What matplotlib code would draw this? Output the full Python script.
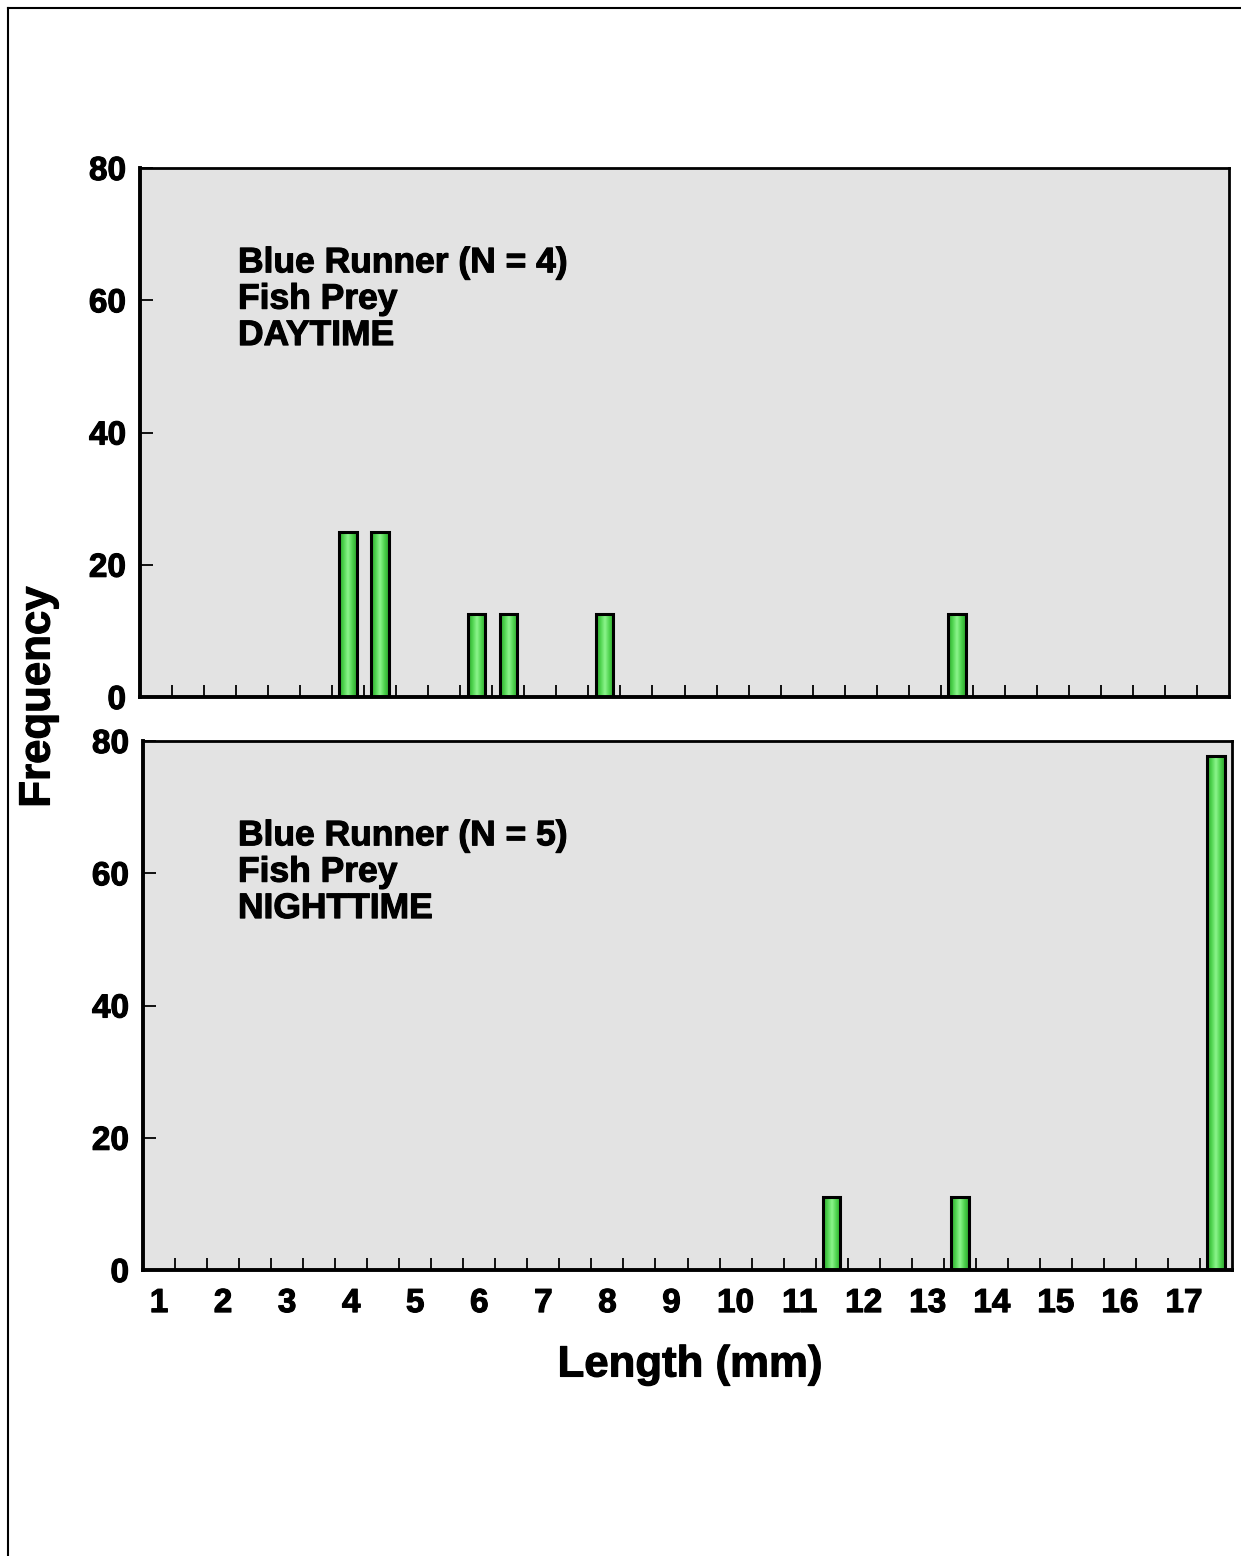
import numpy as np
import matplotlib
matplotlib.use("Agg")
import matplotlib.pyplot as plt
import matplotlib.patheffects as pe
from matplotlib.colors import LinearSegmentedColormap
from matplotlib.lines import Line2D

plt.rcParams["font.family"] = ["Liberation Sans", "DejaVu Sans"]
plt.rcParams["font.weight"] = "bold"

# length classes (mm), half-mm bins
lengths = [1, 1.5, 2, 2.5, 3, 3.5, 4, 4.5, 5, 5.5, 6, 6.5, 7, 7.5, 8, 8.5, 9,
           9.5, 10, 10.5, 11, 11.5, 12, 12.5, 13, 13.5, 14, 14.5, 15, 15.5,
           16, 16.5, 17, 17.5]
tick_labels = ["1", "2", "3", "4", "5", "6", "7", "8", "9", "10", "11", "12",
               "13", "14", "15", "16", "17"]

# percent frequency of fish prey per length class
day_freq = [0, 0, 0, 0, 0, 0, 25, 25, 0, 0, 12.5, 12.5, 0, 0, 12.5, 0, 0,
            0, 0, 0, 0, 0, 0, 0, 0, 12.5, 0, 0, 0, 0, 0, 0, 0, 0]
night_freq = [0, 0, 0, 0, 0, 0, 0, 0, 0, 0, 0, 0, 0, 0, 0, 0, 0,
              0, 0, 0, 0, 11.1, 0, 0, 0, 11.1, 0, 0, 0, 0, 0, 0, 0, 77.8]

panel_text = ["Blue Runner (N = 4)\nFish Prey\nDAYTIME",
              "Blue Runner (N = 5)\nFish Prey\nNIGHTTIME"]

# a thin outline makes the bold face a bit heavier
heavy = [pe.withStroke(linewidth=0.8, foreground="black")]

green = LinearSegmentedColormap.from_list(
    "bar", ["#2aa52a", "#4fd34f", "#8cf58c", "#4fd34f", "#2aa52a"])
grad = np.linspace(0, 1, 64).reshape(1, -1)

fig = plt.figure(figsize=(12.41, 15.56), dpi=100)

axes_pos = [[140 / 1241, 1 - 697 / 1556, 1089 / 1241, 529 / 1556],
            [143 / 1241, 1 - 1270 / 1556, 1089 / 1241, 529 / 1556]]
text_x = [0.09, 0.0872]

x = np.arange(len(lengths))

for i, (freq, label) in enumerate(zip([day_freq, night_freq], panel_text)):
    ax = fig.add_axes(axes_pos[i])
    ax.set_facecolor("#e3e3e3")
    bars = ax.bar(x, freq, width=0.55, color="none", edgecolor="black",
                  linewidth=2.2, zorder=3)
    for b in bars:
        if b.get_height() <= 0:
            continue
        x0, y0 = b.get_x(), b.get_y()
        im = ax.imshow(grad, cmap=green, aspect="auto", zorder=2,
                       extent=[x0, x0 + b.get_width(), y0, y0 + b.get_height()])
        im.set_clip_path(b)

    ax.set_xlim(-0.5, len(lengths) - 0.5)
    ax.set_ylim(0, 80)
    ax.set_yticks([0, 20, 40, 60, 80])
    ax.tick_params(axis="y", direction="in", length=9, width=1.3,
                   labelsize=24, pad=10)
    ax.set_xticks(x[::2])
    ax.set_xticks(x[:-1] + 0.5, minor=True)
    ax.tick_params(axis="x", which="major", length=0, labelsize=24, pad=13)
    ax.tick_params(axis="x", which="minor", direction="in", length=9,
                   width=1.3)
    if i == 0:
        ax.set_xticklabels([])
    else:
        ax.set_xticklabels(tick_labels)
    for side in ["left", "bottom"]:
        ax.spines[side].set_linewidth(2.8)
    for side in ["top", "right"]:
        ax.spines[side].set_linewidth(2.0)
    for t in ax.get_xticklabels() + ax.get_yticklabels():
        t.set_fontweight("bold")
        t.set_path_effects(heavy)

    ax.text(text_x[i], 0.852, label, transform=ax.transAxes, fontsize=25.5,
            fontweight="bold", va="top", ha="left", linespacing=1.13,
            path_effects=heavy)

fig.text(690 / 1241, 1 - 1365 / 1556, "Length (mm)", fontsize=31.5,
         fontweight="bold", ha="center", va="center", path_effects=heavy)
fig.text(38 / 1241, 1 - 697 / 1556, "Frequency", fontsize=31.5,
         fontweight="bold", ha="center", va="center", rotation=90,
         path_effects=heavy)

# page border lines
fig.add_artist(Line2D([8 / 1241, 1], [1 - 8 / 1556, 1 - 8 / 1556],
                      color="black", linewidth=1.5))
fig.add_artist(Line2D([8 / 1241, 8 / 1241], [0, 1 - 8 / 1556],
                      color="black", linewidth=1.5))

fig.savefig("out.png", dpi=100)
